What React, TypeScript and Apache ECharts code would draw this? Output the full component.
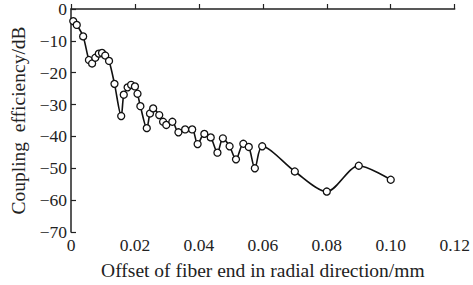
import React, { useEffect, useRef } from "react";
import * as echarts from "echarts";

const xValues = [0.0007, 0.0018, 0.0038, 0.0056, 0.0066, 0.0076, 0.0087, 0.0097, 0.0107, 0.0119, 0.0136, 0.0157, 0.0165, 0.0177, 0.0188, 0.02, 0.0208, 0.0217, 0.0237, 0.0247, 0.0257, 0.0276, 0.0288, 0.0298, 0.0317, 0.0336, 0.0357, 0.0379, 0.0396, 0.0417, 0.0437, 0.0458, 0.0475, 0.0496, 0.0516, 0.0539, 0.0556, 0.0575, 0.0598, 0.07, 0.08, 0.09, 0.1];
const yValues = [-3.8, -5.0, -8.6, -16.0, -17.1, -15.3, -14.0, -13.8, -14.6, -16.3, -23.5, -33.6, -26.9, -24.6, -23.8, -24.3, -26.6, -30.5, -37.4, -32.8, -31.2, -33.3, -35.4, -36.4, -35.4, -38.7, -37.8, -37.8, -42.4, -39.2, -40.3, -45.1, -40.6, -43.1, -47.2, -42.3, -43.3, -50.0, -43.1, -51.0, -57.3, -49.2, -53.6];

const xTitle = "Offset of fiber end in radial direction/mm";
const yTitle = "Coupling  efficiency/dB";

export default function App() {
  const ref = useRef<HTMLDivElement>(null);
  useEffect(() => {
    if (!ref.current) return;
    const chart = echarts.init(ref.current, null, { renderer: "svg" });
    const font = "Liberation Serif";
    chart.setOption({
      animation: false,
      backgroundColor: "#ffffff",
      grid: { left: 71, right: 15, top: 7, bottom: 51 },
      xAxis: {
        type: "value",
        min: 0,
        max: 0.12,
        interval: 0.02,
        name: xTitle,
        nameLocation: "middle",
        nameGap: 28,
        nameTextStyle: { fontFamily: font, fontSize: 19.5, color: "#222" },
        axisLine: { lineStyle: { color: "#222", width: 1.5 } },
        axisTick: { inside: true, length: 5, lineStyle: { color: "#222", width: 1.2 } },
        splitLine: { show: false },
        axisLabel: {
          fontFamily: font,
          fontSize: 17.5,
          color: "#222",
          margin: 4,
          formatter: (v: number) => (v === 0 ? "0" : v.toFixed(2)),
        },
      },
      yAxis: {
        type: "value",
        min: -70,
        max: 0,
        interval: 10,
        name: yTitle,
        nameLocation: "middle",
        nameGap: 42,
        nameRotate: 90,
        nameTextStyle: { fontFamily: font, fontSize: 19.5, color: "#222" },
        axisLine: { lineStyle: { color: "#222", width: 1.5 } },
        axisTick: { inside: true, length: 5, lineStyle: { color: "#222", width: 1.2 } },
        splitLine: { show: false },
        axisLabel: {
          fontFamily: font,
          fontSize: 17.5,
          color: "#222",
          margin: 4,
          formatter: (v: number) => (v < 0 ? "\u2212" + Math.abs(v) : String(v)),
        },
      },
      series: [
        {
          type: "line",
          data: xValues.map((x, i) => [x, yValues[i]]),
          smooth: 0.3,
          symbol: "circle",
          symbolSize: 7,
          showAllSymbol: true,
          lineStyle: { color: "#111", width: 1.6 },
          itemStyle: { color: "#ffffff", borderColor: "#111", borderWidth: 1.3 },
        },
      ],
    });
    return () => chart.dispose();
  }, []);
  return <div ref={ref} style={{ width: 473, height: 285, position: "absolute", left: 0, top: 0 }} />;
}
